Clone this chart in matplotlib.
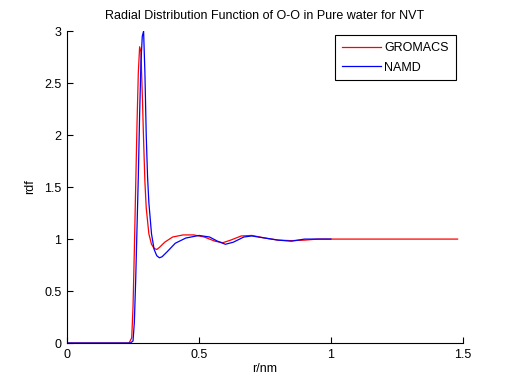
import matplotlib
matplotlib.use("Agg")
import matplotlib.pyplot as plt

# GROMACS rdf (O-O)
r_gromacs = [0, 0.20, 0.235, 0.245, 0.25, 0.255, 0.26, 0.265, 0.27, 0.275, 0.28,
             0.285, 0.29, 0.295, 0.30, 0.31, 0.32, 0.33, 0.34, 0.35, 0.37, 0.40,
             0.44, 0.48, 0.52, 0.56, 0.59, 0.62, 0.66, 0.70, 0.75, 0.80, 0.85,
             0.90, 0.95, 1.0, 1.1, 1.2, 1.3, 1.4, 1.48]
g_gromacs = [0, 0, 0, 0.05, 0.35, 0.9, 1.5, 2.1, 2.6, 2.85, 2.8,
             2.4, 1.95, 1.55, 1.3, 1.05, 0.95, 0.91, 0.90, 0.92, 0.97, 1.02,
             1.04, 1.04, 1.02, 0.98, 0.965, 0.99, 1.03, 1.035, 1.01, 0.99, 0.985,
             0.99, 1.0, 1.0, 1.0, 1.0, 1.0, 1.0, 1.0]

# NAMD rdf (O-O)
r_namd = [0, 0.24, 0.25, 0.255, 0.26, 0.265, 0.27, 0.275, 0.28, 0.285, 0.29,
          0.295, 0.30, 0.305, 0.31, 0.32, 0.33, 0.34, 0.35, 0.36, 0.38, 0.41,
          0.45, 0.50, 0.54, 0.57, 0.60, 0.63, 0.67, 0.70, 0.75, 0.80, 0.85,
          0.90, 0.95, 1.0]
g_namd = [0, 0, 0.02, 0.2, 0.6, 1.1, 1.6, 2.2, 2.7, 2.95, 3.0,
          2.6, 2.0, 1.6, 1.35, 1.05, 0.9, 0.84, 0.82, 0.83, 0.88, 0.96,
          1.01, 1.035, 1.02, 0.98, 0.95, 0.97, 1.02, 1.03, 1.01, 0.99, 0.98,
          1.0, 1.0, 1.0]

x_ticks = [0, 0.5, 1, 1.5]
y_ticks = [0, 0.5, 1, 1.5, 2, 2.5, 3]

plt.rcParams["font.family"] = ["Liberation Sans", "DejaVu Sans"]
plt.rcParams["font.size"] = 9

fig = plt.figure(figsize=(5.12, 3.85), dpi=100)
ax = fig.add_axes([0.131, 0.109, 0.773, 0.81])

ax.plot(r_gromacs, g_gromacs, color="#ff0000", lw=0.9, label="GROMACS")
ax.plot(r_namd, g_namd, color="#0000ff", lw=0.9, label="NAMD")

ax.set_xlim(0, 1.5)
ax.set_ylim(0, 3)
ax.set_xticks(x_ticks)
ax.set_xticklabels(["0", "0.5", "1", "1.5"])
ax.set_yticks(y_ticks)
ax.set_yticklabels(["0", "0.5", "1", "1.5", "2", "2.5", "3"])
ax.tick_params(direction="in", length=4, width=0.8, pad=4)
for s in ["top", "right"]:
    ax.spines[s].set_visible(False)
for s in ["left", "bottom"]:
    ax.spines[s].set_linewidth(0.8)

ax.set_title("Radial Distribution Function of O-O in Pure water for NVT", fontsize=9, pad=9)
ax.set_xlabel("r/nm", labelpad=2)
ax.set_ylabel("rdf", labelpad=6)

leg = ax.legend(loc="upper right", bbox_to_anchor=(0.982, 0.987), borderaxespad=0,
                fancybox=False, edgecolor="black", handlelength=3.1, handletextpad=0.3,
                borderpad=0.55, labelspacing=0.6, framealpha=1)
leg.get_frame().set_linewidth(0.8)

fig.savefig("out.png", dpi=100)
